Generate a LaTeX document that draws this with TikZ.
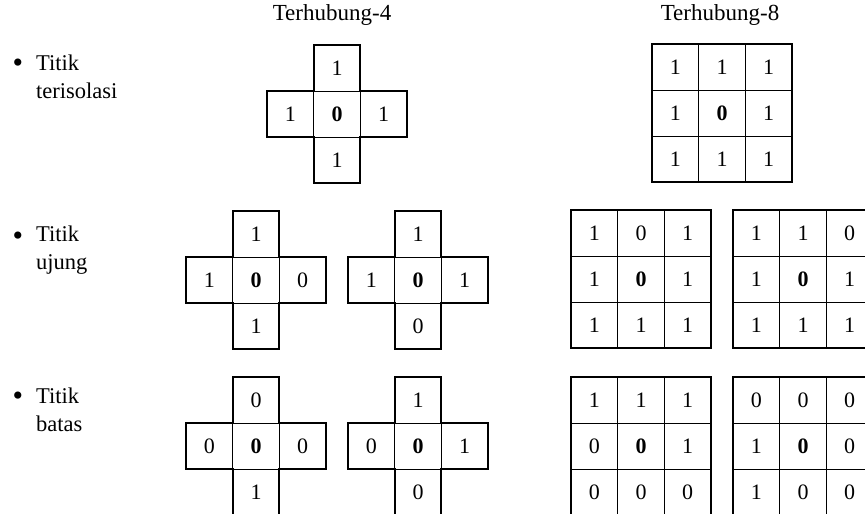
\documentclass[tikz,border=0pt]{standalone}
\usepackage{fontspec}
\setmainfont{Liberation Serif}
\usetikzlibrary{positioning}

\begin{document}
\begin{tikzpicture}[x=1pt,y=-1pt,
  cell/.style={draw,line width=1pt,outer sep=0pt,inner sep=0pt,
    minimum width=46.7pt,minimum height=46pt,font=\fontsize{22}{26}\selectfont},
  pusat/.style={cell,font=\fontsize{22}{26}\selectfont\bfseries},
  tepi/.style={line width=2pt,line join=miter},
  judul/.style={font=\fontsize{23}{27}\selectfont},
  ket/.style={anchor=west,align=left,inner sep=0pt,font=\fontsize{22.5}{27.5}\selectfont}]
  \useasboundingbox (0,0) rectangle (865,514);
  \clip (0,0) rectangle (865,514);
  % judul kolom
  \node[judul] (j4) at (332,15) {Terhubung-4};
  \node[judul] (j8) at (720,15) {Terhubung-8};
  % keterangan baris
  \foreach \k/\y/\teks in {1/77/{Titik\\terisolasi}, 2/250/{Titik\\ujung}, 3/410/{Titik\\batas}}{
    \node[ket] (ket\k) at (36,\y) {\teks};
    \node[font=\fontsize{30}{30}\selectfont,inner sep=0pt] (bul\k) at (18,\y-11) {•};
  }
  % terhubung-4
  \foreach \k/\cx/\cy/\n/\w/\e/\s in {a/337/114/1/1/1/1, b/256/280/1/1/0/1, c/418/280/1/1/1/0,
      d/256/446/0/0/0/1, e/418/446/1/0/1/0}{
    \node[pusat] (\k0) at (\cx,\cy) {0};
    \node[cell,above=0pt of \k0] (\k n) {\n};
    \node[cell,left=0pt of \k0] (\k w) {\w};
    \node[cell,right=0pt of \k0] (\k e) {\e};
    \node[cell,below=0pt of \k0] (\k s) {\s};
    \draw[tepi] (\k n.north west) -- (\k n.north east) -- (\k e.north west) -- (\k e.north east)
      -- (\k e.south east) -- (\k s.north east) -- (\k s.south east) -- (\k s.south west)
      -- (\k w.south east) -- (\k w.south west) -- (\k w.north west) -- (\k n.south west) -- cycle;
  }
  % terhubung-8
  \foreach \k/\cx/\cy/\va/\vb/\vc/\vd/\vf/\vg/\vh/\vi in {p/722/113/1/1/1/1/1/1/1/1,
      q/641/279/1/0/1/1/1/1/1/1, r/803/279/1/1/0/1/1/1/1/1,
      s/641/446/1/1/1/0/1/0/0/0, t/803/446/0/0/0/1/0/1/0/0}{
    \node[pusat] (\k11) at (\cx,\cy) {0};
    \node[cell] (\k00) at (\cx-46.7,\cy-46) {\va};
    \node[cell] (\k01) at (\cx,\cy-46) {\vb};
    \node[cell] (\k02) at (\cx+46.7,\cy-46) {\vc};
    \node[cell] (\k10) at (\cx-46.7,\cy) {\vd};
    \node[cell] (\k12) at (\cx+46.7,\cy) {\vf};
    \node[cell] (\k20) at (\cx-46.7,\cy+46) {\vg};
    \node[cell] (\k21) at (\cx,\cy+46) {\vh};
    \node[cell] (\k22) at (\cx+46.7,\cy+46) {\vi};
    \draw[tepi] (\k00.north west) rectangle (\k22.south east);
  }
\end{tikzpicture}
\end{document}
